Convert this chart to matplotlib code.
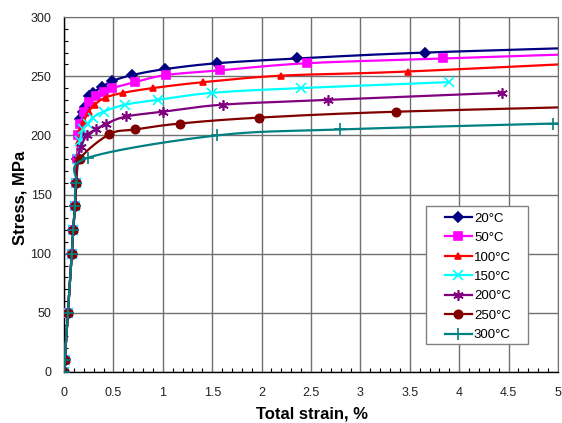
import numpy as np
import matplotlib
matplotlib.use('Agg')
import matplotlib.pyplot as plt
from matplotlib.ticker import MultipleLocator
from matplotlib.patches import Rectangle

plt.rcParams['font.family'] = ['Liberation Sans', 'DejaVu Sans']


# общий упругий участок для всех кривых
elastic_strain = [0, 0.008, 0.04, 0.078, 0.094, 0.11, 0.125]
elastic_stress = [0, 10, 50, 100, 120, 140, 160]

labels = ['20°C', '50°C', '100°C', '150°C', '200°C', '250°C', '300°C']

strain_20 = [0.135, 0.15, 0.165, 0.19, 0.21, 0.25, 0.29, 0.385, 0.49, 0.69, 1.02, 1.55, 2.36, 3.65, 6.0]
stress_20 = [180, 200, 214, 220, 224, 233, 236, 241, 246, 251, 256, 261, 265, 270, 276]

strain_50 = [0.13, 0.145, 0.165, 0.2, 0.25, 0.32, 0.40, 0.49, 0.72, 1.03, 1.58, 2.46, 3.84, 6.0]
stress_50 = [180, 200, 210, 220, 228, 233, 237, 240, 245, 251, 255, 261, 265, 271]

strain_100 = [0.135, 0.15, 0.17, 0.2, 0.25, 0.31, 0.42, 0.6, 0.9, 1.41, 2.2, 3.48, 6.0]
stress_100 = [180, 195, 205, 212, 220, 226, 232, 236, 240, 245, 250.5, 254, 264]

strain_150 = [0.14, 0.16, 0.19, 0.24, 0.29, 0.40, 0.62, 0.95, 1.5, 2.4, 3.9]
stress_150 = [180, 195, 205, 210, 215, 220, 226, 230, 236, 240, 245]

strain_200 = [0.14, 0.17, 0.23, 0.32, 0.43, 0.63, 1.0, 1.61, 2.67, 4.43]
stress_200 = [180, 190, 200, 205, 210, 216, 220, 226, 230, 236]

strain_250 = [0.16, 0.46, 0.72, 1.17, 1.97, 3.36, 6.0]
stress_250 = [180, 201, 205, 210, 215, 220, 225.7]

strain_300 = [0.24, 1.55, 2.79, 4.95, 6.0]
stress_300 = [181, 200, 205, 210, 212]

colors = ['#000080', '#ff00ff', '#ff0000', '#00ffff', '#800080', '#800000', '#008080']
markers = ['D', 's', '^', 'x', (6, 2, 0), 'o', '+']
msizes = [5, 5.5, 4, 6.5, 7.5, 6, 8]


def smooth(x, y, n=30):
    # сглаживание как в Excel (кривые Безье по соседним точкам)
    p = np.column_stack([x, y]).astype(float)
    p = np.vstack([p[0], p, p[-1]])
    t = np.linspace(0, 1, n)[:, None]
    out = []
    for i in range(1, len(p) - 2):
        p0, p1, p2, p3 = p[i - 1], p[i], p[i + 1], p[i + 2]
        c1 = p1 + (p2 - p0) / 6
        c2 = p2 - (p3 - p1) / 6
        out.append((1 - t)**3 * p1 + 3 * (1 - t)**2 * t * c1
                   + 3 * (1 - t) * t**2 * c2 + t**3 * p2)
    out = np.vstack(out)
    return out[:, 0], out[:, 1]


fig = plt.figure(figsize=(5.62, 4.23), dpi=100)
ax = fig.add_axes([0.1139, 0.1206, 0.879, 0.839])

curves = [(strain_20, stress_20), (strain_50, stress_50), (strain_100, stress_100),
          (strain_150, stress_150), (strain_200, stress_200), (strain_250, stress_250),
          (strain_300, stress_300)]

for (sx, sy), lab, c, m, ms in zip(curves, labels, colors, markers, msizes):
    x = elastic_strain + sx
    y = elastic_stress + sy
    xs, ys = smooth(x, y)
    ax.plot(xs, ys, color=c, lw=1.6, zorder=3)
    ax.plot(x, y, ls='none', marker=m, ms=ms, color=c, mec=c, mew=1.2, zorder=3)
    ax.plot([], [], color=c, lw=1.6, marker=m, ms=ms, mew=1.2, label=lab)

ax.set_xlim(0, 5)
ax.set_ylim(0, 300)
ax.xaxis.set_minor_locator(MultipleLocator(0.1))
ax.yaxis.set_major_locator(MultipleLocator(50))
ax.yaxis.set_minor_locator(MultipleLocator(10))
ax.set_xticks(np.arange(0, 5.01, 0.5))
ax.set_xticklabels(['0', '0.5', '1', '1.5', '2', '2.5', '3', '3.5', '4', '4.5', '5'])

ax.grid(True, which='major', color='#707070', lw=1, zorder=0)
ax.tick_params(which='major', direction='in', length=0, labelsize=9,
               labelcolor='#222222')
ax.tick_params(axis='x', which='major', pad=11)
ax.tick_params(axis='y', which='major', pad=9)
ax.tick_params(which='minor', direction='in', length=3, width=0.8, color='black')

for s in ['left', 'bottom']:
    ax.spines[s].set_color('black')
    ax.spines[s].set_linewidth(1)
for s in ['top', 'right']:
    ax.spines[s].set_color('#707070')

ax.set_xlabel('Total strain, %', fontsize=12, fontweight='bold')
ax.xaxis.label.set_va('baseline')
ax.xaxis.set_label_coords(0.501, -0.13)
ax.set_ylabel('Stress, MPa', fontsize=12, fontweight='bold')
ax.yaxis.label.set_va('center')
ax.yaxis.set_label_coords(-0.089, 0.49)

# рамка легенды
ax.add_patch(Rectangle((0.733, 0.079), 0.206, 0.389, transform=ax.transAxes,
                       facecolor='white', edgecolor='#808080', lw=1, zorder=4))
ax.legend(loc='upper left', bbox_to_anchor=(0.771, 0.45), fontsize=9.5,
          frameon=False, handlelength=2.05, labelspacing=0.55, borderpad=0,
          handletextpad=0.15, borderaxespad=0)

plt.savefig('out.png', dpi=100)
